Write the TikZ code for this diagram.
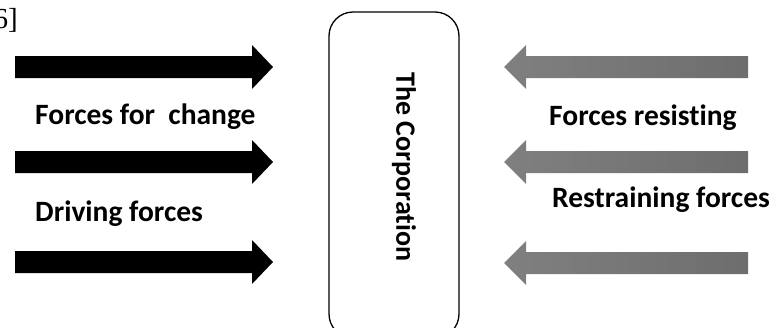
\documentclass[tikz,border=0pt]{standalone}
\usepackage{fontspec}
\setmainfont{Carlito}[Ligatures=NoCommon]
\newfontfamily\refnum{Liberation Serif}

\begin{document}
\begin{tikzpicture}[x=1pt,y=-1pt,
	lbl/.style={font=\fontsize{29.5}{34}\selectfont\bfseries, inner sep=0pt, anchor=base west},
	pushar/.style={fill=black},
	holdar/.style={left color=black!50, middle color=black!43, right color=black!57}]
	\useasboundingbox (0,0) rectangle (769,327);
	\node[anchor=north east, inner sep=0pt, font=\refnum\fontsize{29}{34}\selectfont] at (18,8)(ref){6]};
	% forces pushing towards the corporation
	\foreach \y in {67,162,262}
		\fill[pushar] (15,\y-11) -- (252,\y-11) -- (252,\y-22) -- (273,\y) -- (252,\y+22) -- (252,\y+11) -- (15,\y+11) -- cycle;
	% forces holding it back
	\foreach \y in {67,162,263}
		\shade[holdar] (748,\y-11) -- (526,\y-11) -- (526,\y-22) -- (504,\y) -- (526,\y+22) -- (526,\y+11) -- (748,\y+11) -- cycle;
	\node[draw, line width=1.3pt, rounded corners=24pt, minimum width=130pt, minimum height=326pt] at (394,175)(corp){};
	\node[rotate=-90, font=\fontsize{28}{32}\selectfont\bfseries, inner sep=0pt] at (404,167)(name){The Corporation};
	\node[lbl] at (35,124)(change){Forces for\ \ change};
	\node[lbl] at (35,221)(driving){Driving forces};
	\node[lbl] at (549,125)(resist){Forces resisting};
	\node[lbl] at (552,207)(restrain){Restraining forces};
\end{tikzpicture}
\end{document}
